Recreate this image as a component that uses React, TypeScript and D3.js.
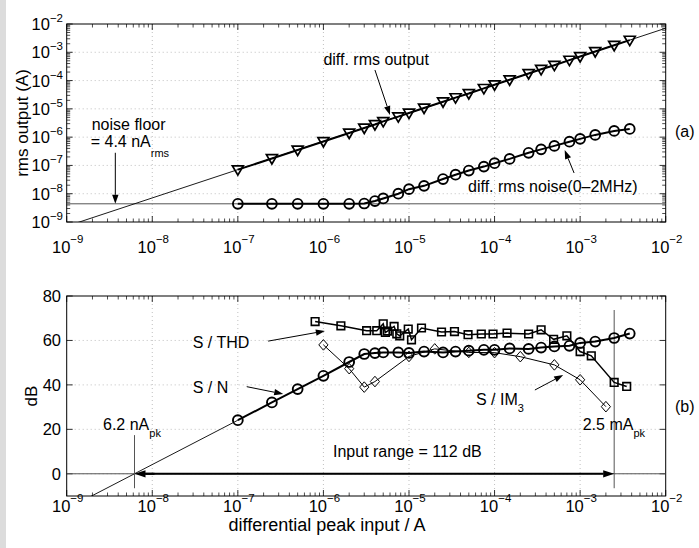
import React from "react";
import * as d3 from "d3";

// ---------- data ----------
const inputX = [1e-7, 2.5e-7, 5e-7, 1e-6, 2e-6, 3e-6, 4e-6, 5e-6, 7.5e-6, 1e-5, 1.5e-5, 2.5e-5, 3.5e-5, 5e-5, 7.5e-5, 1e-4, 1.5e-4, 2.5e-4, 3.5e-4, 5e-4, 7.5e-4, 1e-3, 1.5e-3, 2.5e-3, 3.8e-3];
const rmsOutput = [7.1e-8, 1.75e-7, 3.5e-7, 7.0e-7, 1.4e-6, 2.1e-6, 2.8e-6, 3.6e-6, 5.3e-6, 7.1e-6, 1.07e-5, 1.78e-5, 2.5e-5, 3.5e-5, 5.3e-5, 7.1e-5, 1.07e-4, 1.78e-4, 2.5e-4, 3.5e-4, 5.3e-4, 7.1e-4, 1.07e-3, 1.78e-3, 2.7e-3];
const rmsNoise = [4.4e-9, 4.4e-9, 4.4e-9, 4.4e-9, 4.4e-9, 4.5e-9, 5.5e-9, 6.8e-9, 1.0e-8, 1.45e-8, 1.9e-8, 3.3e-8, 4.7e-8, 6.6e-8, 9.1e-8, 1.2e-7, 1.7e-7, 2.8e-7, 3.7e-7, 4.9e-7, 6.9e-7, 8.7e-7, 1.2e-6, 1.66e-6, 1.95e-6];
const snDb = [24.1, 32.1, 38.1, 44.1, 50.3, 53.9, 54.3, 54.6, 54.6, 54.4, 55, 54.6, 55, 55.4, 55.8, 55.8, 56.4, 56.2, 56.8, 57.3, 57.6, 58.9, 59.5, 61.1, 63.1];
const thdX = [8e-7, 1.6e-6, 3.2e-6, 4.2e-6, 5e-6, 5.3e-6, 5.6e-6, 6.7e-6, 7.2e-6, 7.8e-6, 9.8e-6, 1.07e-5, 1.4e-5, 2.4e-5, 3.4e-5, 4.9e-5, 7e-5, 9.6e-5, 1.4e-4, 2.5e-4, 3.5e-4, 4.9e-4, 7e-4, 1e-3, 1.35e-3, 2.5e-3, 3.5e-3];
const thdDb = [68.5, 66.6, 64.4, 64.4, 67.5, 63.6, 64.2, 66.3, 63.0, 62.1, 65.1, 60.3, 65.6, 63.8, 64, 62.6, 62.9, 62.9, 63.3, 62.9, 64.8, 60.5, 62.1, 55, 53.1, 41.1, 39.3];
const imX = [1e-6, 2e-6, 3e-6, 4e-6, 1e-5, 2e-5, 5e-5, 1e-4, 2e-4, 5e-4, 1e-3, 2e-3];
const imDb = [58, 47.3, 39, 41.5, 52.8, 56.2, 54.6, 54.5, 52.7, 49, 42.3, 30.2];
const outFitX = [1e-9, 1e-2];
const outFitY = [7.1e-10, 7.1e-3];
const snFitX = [1e-9, 1e-7];
const snFitDb = [-15.8, 24.1];
const noiseFloor = 4.4e-9;
const rangeLow = 6.2e-9;
const rangeHigh = 2.5e-3;
const decades = [-9, -8, -7, -6, -5, -4, -3, -2];
const dbTicks = [0, 20, 40, 60, 80];

// ---------- layout ----------
const W = 699, H = 548;
const L = 66.7, R = 665.7;
const T1 = 24, B1 = 222, T2 = 296, B2 = 496;
const FONT = "'Liberation Sans', Arial, Helvetica, sans-serif";

const x = d3.scaleLog().domain([1e-9, 1e-2]).range([L, R]);
const yTop = d3.scaleLog().domain([1e-9, 1e-2]).range([B1, T1]);
const yBot = d3.scaleLinear().domain([-10, 80]).range([B2, T2]);

const minorVals: number[] = [];
for (let d = -9; d < -2; d++) for (let k = 2; k <= 9; k++) minorVals.push(k * Math.pow(10, d));

function Arrow({ x1, y1, x2, y2, w = 1, len = 9, half = 3.2 }: any) {
  const a = Math.atan2(y2 - y1, x2 - x1);
  const bx = x2 - len * Math.cos(a), by = y2 - len * Math.sin(a);
  const px = -Math.sin(a) * half, py = Math.cos(a) * half;
  return (
    <g>
      <line x1={x1} y1={y1} x2={bx} y2={by} stroke="#000" strokeWidth={w} />
      <polygon points={`${x2},${y2} ${bx + px},${by + py} ${bx - px},${by - py}`} fill="#000" />
    </g>
  );
}

function tri(cx: number, cy: number, s = 5.5) {
  return `M${cx - s},${cy - s * 0.7} L${cx + s},${cy - s * 0.7} L${cx},${cy + s * 1.0} Z`;
}
function sq(cx: number, cy: number, s = 3.8) {
  return `M${cx - s},${cy - s} h${2 * s} v${2 * s} h${-2 * s} Z`;
}
function dia(cx: number, cy: number, s = 4.6) {
  return `M${cx},${cy - s * 1.15} L${cx + s},${cy} L${cx},${cy + s * 1.15} L${cx - s},${cy} Z`;
}

function Frame({ top, bottom, yScale, logY }: any) {
  const els: any[] = [];
  const major = 6, minor = 3.5;
  decades.slice(1, -1).forEach((d) => {
    const xv = x(Math.pow(10, d));
    els.push(<line key={"gx" + d} x1={xv} x2={xv} y1={top} y2={bottom} stroke="#b0b0b0" strokeWidth={0.8} strokeDasharray="1,3" />);
  });
  if (logY) {
    decades.slice(1, -1).forEach((d) => {
      const yv = yScale(Math.pow(10, d));
      els.push(<line key={"gy" + d} x1={L} x2={R} y1={yv} y2={yv} stroke="#b0b0b0" strokeWidth={0.8} strokeDasharray="1,3" />);
    });
  } else {
    dbTicks.slice(0, -1).forEach((v) => {
      const yv = yScale(v);
      els.push(<line key={"gy" + v} x1={L} x2={R} y1={yv} y2={yv} stroke="#b0b0b0" strokeWidth={0.8} strokeDasharray="1,3" />);
    });
  }
  decades.forEach((d) => {
    const xv = x(Math.pow(10, d));
    els.push(<line key={"xt" + d} x1={xv} x2={xv} y1={bottom} y2={bottom - major} stroke="#000" strokeWidth={0.8} />);
    els.push(<line key={"xtt" + d} x1={xv} x2={xv} y1={top} y2={top + major} stroke="#000" strokeWidth={0.8} />);
  });
  minorVals.forEach((v, i) => {
    const xv = x(v);
    els.push(<line key={"xm" + i} x1={xv} x2={xv} y1={bottom} y2={bottom - minor} stroke="#000" strokeWidth={0.7} />);
    els.push(<line key={"xmt" + i} x1={xv} x2={xv} y1={top} y2={top + minor} stroke="#000" strokeWidth={0.7} />);
  });
  if (logY) {
    decades.forEach((d) => {
      const yv = yScale(Math.pow(10, d));
      els.push(<line key={"yt" + d} x1={L} x2={L + major} y1={yv} y2={yv} stroke="#000" strokeWidth={0.8} />);
      els.push(<line key={"ytr" + d} x1={R} x2={R - major} y1={yv} y2={yv} stroke="#000" strokeWidth={0.8} />);
    });
    minorVals.forEach((v, i) => {
      const yv = yScale(v);
      els.push(<line key={"ym" + i} x1={L} x2={L + minor} y1={yv} y2={yv} stroke="#000" strokeWidth={0.7} />);
      els.push(<line key={"ymr" + i} x1={R} x2={R - minor} y1={yv} y2={yv} stroke="#000" strokeWidth={0.7} />);
    });
  } else {
    dbTicks.forEach((v) => {
      const yv = yScale(v);
      els.push(<line key={"yt" + v} x1={L} x2={L + major} y1={yv} y2={yv} stroke="#000" strokeWidth={0.8} />);
      els.push(<line key={"ytr" + v} x1={R} x2={R - major} y1={yv} y2={yv} stroke="#000" strokeWidth={0.8} />);
    });
  }
  els.push(<rect key="box" x={L} y={top} width={R - L} height={bottom - top} fill="none" stroke="#000" strokeWidth={1} />);
  return <g>{els}</g>;
}

function XLabels({ base }: any) {
  return (
    <g fontFamily={FONT} fontSize={16.5} fill="#000">
      {decades.map((d) => (
        <text key={d} x={x(Math.pow(10, d)) + 1} y={base} textAnchor="middle">
          <tspan>10</tspan>
          <tspan dy={-10} fontSize={11.5}>{"\u2212" + Math.abs(d)}</tspan>
        </text>
      ))}
    </g>
  );
}

export default function App() {
  const outLine = d3.line<number>().x((_, i) => x(inputX[i])).y((v) => yTop(v));
  const snLine = d3.line<number>().x((_, i) => x(inputX[i])).y((v) => yBot(v));
  const thdLine = d3.line<number>().x((_, i) => x(thdX[i])).y((v) => yBot(v));
  const imLine = d3.line<number>().x((_, i) => x(imX[i])).y((v) => yBot(v));
  const outFit = d3.line<number>().x((_, i) => x(outFitX[i])).y((v) => yTop(v));
  const snFit = d3.line<number>().x((_, i) => x(snFitX[i])).y((v) => yBot(v));

  return (
    <div style={{ position: "absolute", left: 0, top: 0 }}>
      <svg width={W} height={H} style={{ display: "block", background: "#fff" }} fontFamily={FONT}>
        <defs>
          <clipPath id="c1"><rect x={L} y={T1} width={R - L} height={B1 - T1} /></clipPath>
          <clipPath id="c2"><rect x={L} y={T2} width={R - L} height={B2 - T2} /></clipPath>
        </defs>
        <rect x={0} y={0} width={6} height={H} fill="#dcdcdc" />

        {/* ===== Top panel ===== */}
        <Frame top={T1} bottom={B1} yScale={yTop} logY={true} />
        <g clipPath="url(#c1)">
          <line x1={L} x2={R} y1={yTop(noiseFloor)} y2={yTop(noiseFloor)} stroke="#555" strokeWidth={1} />
          <path d={outFit(outFitY) as string} fill="none" stroke="#000" strokeWidth={0.9} />
        </g>
        <path d={outLine(rmsOutput) as string} fill="none" stroke="#000" strokeWidth={2} />
        <path d={outLine(rmsNoise) as string} fill="none" stroke="#000" strokeWidth={2} />
        {rmsOutput.map((v, i) => (
          <path key={"t" + i} d={tri(x(inputX[i]), yTop(v))} fill="none" stroke="#000" strokeWidth={1.7} />
        ))}
        {rmsNoise.map((v, i) => (
          <circle key={"c" + i} cx={x(inputX[i])} cy={yTop(v)} r={4.9} fill="none" stroke="#000" strokeWidth={1.9} />
        ))}
        {[-2, -3, -4, -5, -6, -7, -8, -9].map((d) => (
          <text key={d} x={63} y={yTop(Math.pow(10, d)) + 6} textAnchor="end" fontSize={16.5}>
            <tspan>10</tspan>
            <tspan dy={-8} fontSize={11.5}>{"\u2212" + Math.abs(d)}</tspan>
          </text>
        ))}
        <XLabels base={253} />
        <text transform={`translate(28,${(T1 + B1) / 2}) rotate(-90)`} textAnchor="middle" fontSize={17}>rms output (A)</text>

        <text x={x(1.0e-6)} y={yTop(3.56e-4)} fontSize={16}>diff. rms output</text>
        <Arrow x1={x(4.0e-6)} y1={yTop(2.37e-4)} x2={x(6.0e-6)} y2={yTop(6.1e-6)} />
        <text x={x(4.9e-5)} y={yTop(1.16e-8)} fontSize={16}>diff. rms noise(0–2MHz)</text>
        <Arrow x1={x(8.5e-4)} y1={yTop(5.4e-8)} x2={x(6.6e-4)} y2={yTop(3.5e-7)} />
        <text x={91.7} y={130} fontSize={16}>
          <tspan x={91.7}>noise floor</tspan>
          <tspan x={90.7} dy={17}>= 4.4 nA</tspan>
          <tspan dy={10} fontSize={11}>rms</tspan>
        </text>
        <Arrow x1={x(3.7e-9)} y1={yTop(2.8e-7)} x2={x(3.7e-9)} y2={yTop(noiseFloor)} />
        <text x={675} y={137} fontSize={16}>(a)</text>

        {/* ===== Bottom panel ===== */}
        <Frame top={T2} bottom={B2} yScale={yBot} logY={false} />
        <g clipPath="url(#c2)">
          <line x1={L} x2={R} y1={yBot(0)} y2={yBot(0)} stroke="#555" strokeWidth={1} />
          <path d={snFit(snFitDb) as string} fill="none" stroke="#000" strokeWidth={0.9} />
        </g>
        <line x1={x(rangeLow)} x2={x(rangeLow)} y1={yBot(17.4)} y2={yBot(-6.5)} stroke="#555" strokeWidth={1} />
        <line x1={x(rangeHigh)} x2={x(rangeHigh)} y1={yBot(73.7)} y2={yBot(-6.5)} stroke="#555" strokeWidth={1} />
        <Arrow x1={x(rangeLow) + 20} y1={yBot(0)} x2={x(rangeLow)} y2={yBot(0)} w={2} len={11} half={3.6} />
        <Arrow x1={x(rangeLow) + 10} y1={yBot(0)} x2={x(rangeHigh)} y2={yBot(0)} w={2} len={11} half={3.6} />

        <path d={imLine(imDb) as string} fill="none" stroke="#000" strokeWidth={1} />
        <path d={thdLine(thdDb) as string} fill="none" stroke="#000" strokeWidth={1.5} />
        <path d={snLine(snDb) as string} fill="none" stroke="#000" strokeWidth={2} />
        {imDb.map((v, i) => (
          <path key={"d" + i} d={dia(x(imX[i]), yBot(v))} fill="none" stroke="#000" strokeWidth={1} />
        ))}
        {thdDb.map((v, i) => (
          <path key={"s" + i} d={sq(x(thdX[i]), yBot(v))} fill="none" stroke="#000" strokeWidth={1.6} />
        ))}
        {snDb.map((v, i) => (
          <circle key={"n" + i} cx={x(inputX[i])} cy={yBot(v)} r={4.9} fill="none" stroke="#000" strokeWidth={1.9} />
        ))}
        {dbTicks.map((v) => (
          <text key={v} x={61} y={yBot(v) + 6} textAnchor="end" fontSize={16.5}>{v}</text>
        ))}
        <XLabels base={511.5} />
        <text transform={`translate(37,${(T2 + B2) / 2}) rotate(-90)`} textAnchor="middle" fontSize={17}>dB</text>
        <text x={327} y={531} textAnchor="middle" fontSize={18}>differential peak input  / A</text>

        <text x={192.7} y={yBot(56.6)} fontSize={16}>S / THD</text>
        <Arrow x1={x(2.26e-7)} y1={yBot(59.7)} x2={x(1.04e-6)} y2={yBot(64.25)} />
        <text x={192.7} y={yBot(36.3)} fontSize={16}>S / N</text>
        <Arrow x1={x(1.27e-7)} y1={yBot(39.2)} x2={x(3.39e-7)} y2={yBot(35.9)} />
        <text x={476} y={yBot(30.95)} fontSize={16}>
          <tspan>S / IM</tspan>
          <tspan dy={7} fontSize={11}>3</tspan>
        </text>
        <Arrow x1={x(2.96e-4)} y1={yBot(37.7)} x2={x(6.34e-4)} y2={yBot(44.45)} />
        <text x={103} y={yBot(19.7)} fontSize={16}>
          <tspan>6.2 nA</tspan>
          <tspan dy={7} fontSize={11}>pk</tspan>
        </text>
        <text x={582.7} y={yBot(19.7)} fontSize={16}>
          <tspan>2.5 mA</tspan>
          <tspan dy={7} fontSize={11}>pk</tspan>
        </text>
        <text x={333} y={yBot(7.55)} fontSize={16}>Input range = 112 dB</text>
        <text x={675} y={412} fontSize={16}>(b)</text>
      </svg>
    </div>
  );
}
